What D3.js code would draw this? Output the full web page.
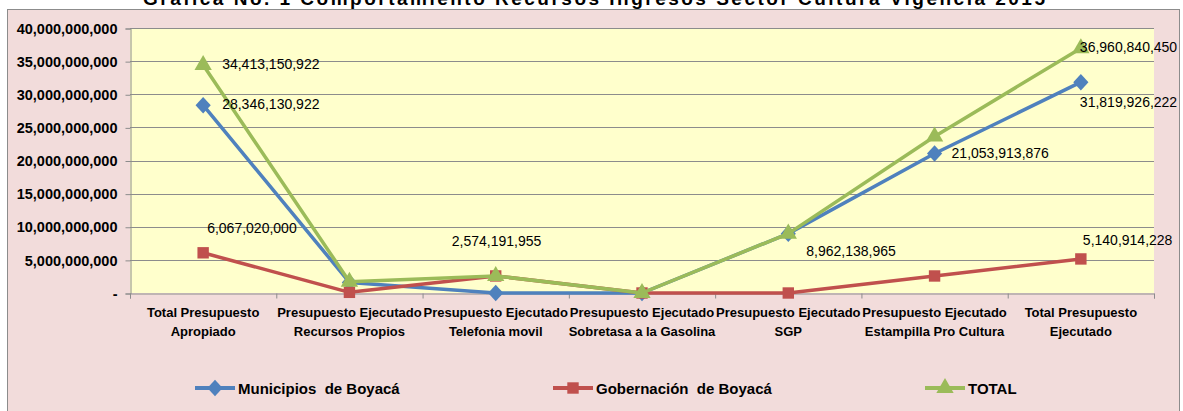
<!DOCTYPE html>
<html>
<head>
<meta charset="utf-8">
<script src="https://cdn.jsdelivr.net/npm/d3@7"></script>
<style>
  body { margin: 0; background: #fff; }
  svg { display: block; }
</style>
</head>
<body>
<div id="chart"></div>
<script>
//------------------------DATA------------------------//
var categories = [
  ["Total Presupuesto", "Apropiado"],
  ["Presupuesto Ejecutado", "Recursos Propios"],
  ["Presupuesto Ejecutado", "Telefonia movil"],
  ["Presupuesto Ejecutado", "Sobretasa a la Gasolina"],
  ["Presupuesto Ejecutado", "SGP"],
  ["Presupuesto Ejecutado", "Estampilla Pro Cultura"],
  ["Total Presupuesto", "Ejecutado"]
];
var municipios = [28346130922, 1600000000, 0, 0, 8962138965, 21053913876, 31819926222];
var gobernacion = [6067020000, 100000000, 2574191955, 0, 0, 2570000000, 5140914228];
var total = [34413150922, 1700000000, 2574191955, 0, 8962138965, 23623913876, 36960840450];
var yTicks = [0, 5e9, 10e9, 15e9, 20e9, 25e9, 30e9, 35e9, 40e9];

// data labels: [index, dx, dy]
var labelsMun = [[0, 19, 4], [4, 18, 22], [5, 17, 4], [6, -1, 25]];
var labelsGob = [[0, 4, -20], [2, -44, -30], [6, 2, -14]];
var labelsTot = [[0, 19, 4], [6, -1, 4]];

//------------------------SETUP------------------------//
var W = 1183, H = 411;
var plotLeft = 130, plotRight = 1154, plotTop = 28, plotBottom = 293;

var svg = d3.select("#chart").append("svg")
    .attr("width", W)
    .attr("height", H);

// chart area
svg.append("rect")
    .attr("x", 7.5).attr("y", 9.5)
    .attr("width", 1172).attr("height", 410)
    .attr("fill", "#F2DCDB")
    .attr("stroke", "#8C8C8C")
    .attr("stroke-width", 1);

// title (clipped at the top)
svg.append("text")
    .attr("x", 594).attr("y", 5)
    .attr("text-anchor", "middle")
    .style("font-family", "Liberation Sans, Arial, sans-serif")
    .style("font-weight", "bold")
    .style("font-size", "19px")
    .attr("textLength", 902)
    .text("Grafica No. 1 Comportamiento Recursos Ingresos Sector Cultura Vigencia 2015");

//------------------------SCALES------------------------//
var x = d3.scaleBand().domain(d3.range(categories.length)).range([plotLeft, plotRight]);
var y = d3.scaleLinear().domain([0, 40e9]).range([plotBottom, plotTop]);

// plot area
svg.append("rect")
    .attr("x", plotLeft).attr("y", plotTop)
    .attr("width", plotRight - plotLeft).attr("height", plotBottom - plotTop)
    .attr("fill", "#FFFFCC");

// gridlines
svg.append("g")
    .selectAll("line")
    .data(yTicks.slice(1))
    .enter().append("line")
    .attr("x1", plotLeft).attr("x2", plotRight)
    .attr("y1", function(d) { return Math.round(y(d)) + 0.5; })
    .attr("y2", function(d) { return Math.round(y(d)) + 0.5; })
    .attr("stroke", "#8C8C8C")
    .attr("stroke-width", 1);

//------------------------AXES------------------------//
var yAxis = d3.axisLeft(y)
    .tickValues(yTicks)
    .tickSize(5)
    .tickPadding(8)
    .tickFormat(function(d) { return d === 0 ? "-" : d3.format(",")(d); });

var gy = svg.append("g")
    .attr("transform", "translate(" + (plotLeft + 0.5) + ",0.5)")
    .call(yAxis);
gy.select(".domain").attr("stroke", "#8C8C8C");
gy.selectAll(".tick line").attr("stroke", "#8C8C8C");
gy.selectAll(".tick text")
    .style("font-family", "Liberation Sans, Arial, sans-serif")
    .style("font-weight", "bold")
    .style("font-size", "14.5px")
    .attr("fill", "#000");

// x axis with ticks at category boundaries
var xb = d3.scalePoint().domain(d3.range(categories.length + 1)).range([plotLeft, plotRight]);
var xAxis = d3.axisBottom(xb).tickSize(5).tickFormat("");
var gx = svg.append("g")
    .attr("transform", "translate(0," + (plotBottom + 0.5) + ")")
    .call(xAxis);
gx.select(".domain").attr("stroke", "#8C8C8C");
gx.selectAll(".tick line").attr("stroke", "#8C8C8C");

// category labels
var catText = svg.append("g").selectAll("text")
    .data(categories)
    .enter().append("text")
    .attr("x", function(d, i) { return x(i) + x.bandwidth() / 2; })
    .attr("y", 317)
    .attr("text-anchor", "middle")
    .style("font-family", "Liberation Sans, Arial, sans-serif")
    .style("font-weight", "bold")
    .style("font-size", "13px");
catText.append("tspan")
    .attr("x", function(d, i) { return x(i) + x.bandwidth() / 2; })
    .text(function(d) { return d[0]; });
catText.append("tspan")
    .attr("x", function(d, i) { return x(i) + x.bandwidth() / 2; })
    .attr("dy", 19)
    .text(function(d) { return d[1]; });

//------------------------LINES------------------------//
var cx = function(i) { return x(i) + x.bandwidth() / 2; };
var line = d3.line()
    .x(function(d, i) { return cx(i); })
    .y(function(d) { return y(d); });

var diamondScale = "scale(1.35,0.85)";
var series = [
  { name: "Municipios  de Boyacá", values: municipios, color: "#4F81BD", symbol: d3.symbolDiamond, size: 110, labels: labelsMun },
  { name: "Gobernación  de Boyacá", values: gobernacion, color: "#C0504D", symbol: d3.symbolSquare, size: 130, labels: labelsGob },
  { name: "TOTAL", values: total, color: "#9BBB59", symbol: d3.symbolTriangle, size: 130, labels: labelsTot }
];

series.forEach(function(s) {
  svg.append("path")
      .attr("d", line(s.values))
      .attr("fill", "none")
      .attr("stroke", s.color)
      .attr("stroke-width", 3.5)
      .attr("stroke-linejoin", "round");

  svg.append("g").selectAll("path")
      .data(s.values)
      .enter().append("path")
      .attr("d", d3.symbol().type(s.symbol).size(s.size))
      .attr("transform", function(d, i) {
        var sy = s.symbol === d3.symbolDiamond ? diamondScale : "";
        return "translate(" + cx(i) + "," + y(d) + ")" + sy;
      })
      .attr("fill", s.color);
});

// data labels
series.forEach(function(s) {
  svg.append("g").selectAll("text")
      .data(s.labels)
      .enter().append("text")
      .attr("x", function(d) { return cx(d[0]) + d[1]; })
      .attr("y", function(d) { return y(s.values[d[0]]) + d[2]; })
      .style("font-family", "Liberation Sans, Arial, sans-serif")
      .style("font-size", "14px")
      .attr("fill", "#000")
      .text(function(d) { return d3.format(",")(s.values[d[0]]); });
});

//------------------------LEGEND------------------------//
var legendX = [195, 553, 925];
var lg = svg.append("g").selectAll("g")
    .data(series)
    .enter().append("g")
    .attr("transform", function(d, i) { return "translate(" + legendX[i] + ",388)"; });

lg.append("line")
    .attr("x1", 0).attr("x2", 40)
    .attr("stroke", function(d) { return d.color; })
    .attr("stroke-width", 4);
lg.append("path")
    .attr("d", function(d) { return d3.symbol().type(d.symbol).size(d.size)(); })
    .attr("transform", function(d) {
      return "translate(20,0)" + (d.symbol === d3.symbolDiamond ? diamondScale : "");
    })
    .attr("fill", function(d) { return d.color; });
lg.append("text")
    .attr("x", 43).attr("y", 6)
    .style("font-family", "Liberation Sans, Arial, sans-serif")
    .style("font-weight", "bold")
    .style("font-size", "15px")
    .style("white-space", "pre")
    .attr("xml:space", "preserve")
    .text(function(d) { return d.name; });
</script>
</body>
</html>
